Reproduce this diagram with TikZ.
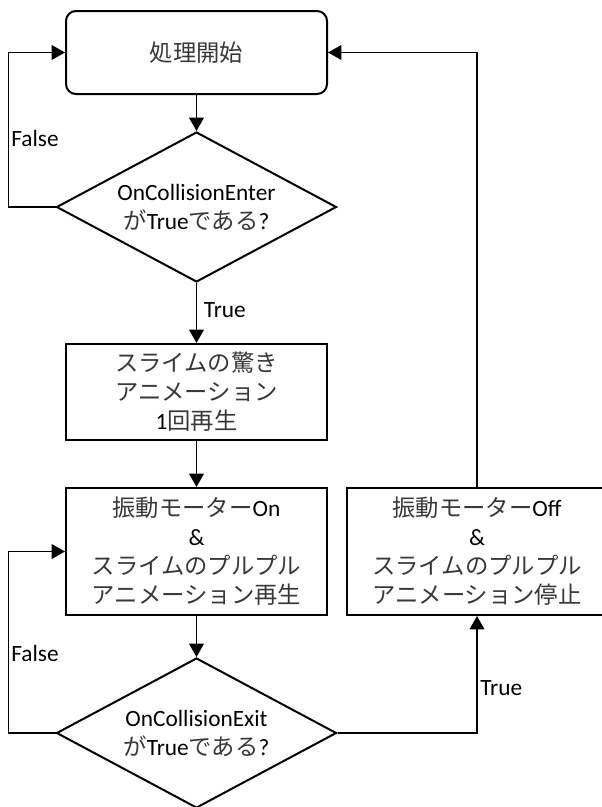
\documentclass[tikz,border=0pt]{standalone}
\usepackage{fontspec}
\setmainfont{Carlito}
\newfontfamily\jpfont{Noto Sans CJK JP}
\newcommand{\jp}[1]{{\jpfont\color{black!78}#1}}
\usetikzlibrary{arrows.meta,shapes.geometric}
\tikzset{
	procbox/.style={draw, line width=1.5pt, minimum width=195.75pt, align=center, inner sep=0pt},
	decbox/.style={draw, diamond, aspect=1.867, line width=1.5pt, minimum width=210pt, minimum height=112.5pt, inner sep=0pt, align=center},
	flow/.style={line width=1pt, -{Triangle[length=10pt,width=11pt]}},
	branch/.style={inner sep=0pt, anchor=west},
}

\begin{document}
\begin{tikzpicture}[x=0.75pt, y=-0.75pt, font=\fontsize{17.5}{21.75}\selectfont]
			%%%%% START %%%%%
			\useasboundingbox (0, 0) rectangle (601, 807);
			
			\node[procbox, rounded corners=7.5pt, minimum height=62.25pt] (start) at (196.5, 52.5) {\jp{処理開始}};
			\node[decbox] (enter) at (196.5, 207) {OnCollisionEnter\\\jp{が}True\jp{である}?};
			\node[procbox, minimum height=72pt] (surprise) at (196.5, 392) {\jp{スライムの驚き}\\\jp{アニメーション}\\1\jp{回再生}};
			\node[procbox, minimum height=95.25pt] (vibon) at (196.5, 551.5) {\jp{振動モーター}On\\\&\\\jp{スライムのプルプル}\\\jp{アニメーション再生}};
			\node[procbox, minimum height=95.25pt] (viboff) at (477, 551.5) {\jp{振動モーター}Off\\\&\\\jp{スライムのプルプル}\\\jp{アニメーション停止}};
			\node[decbox] (exit) at (196.5, 733) {OnCollisionExit\\\jp{が}True\jp{である}?};
			
			\coordinate (lside) at (8.5, 0);
			
			\draw[flow] (start.south) -- (enter.north);
			\draw[flow] (enter.south) -- node[branch, pos=0.45, xshift=5pt] (true1) {True} (surprise.north);
			\draw[flow] (surprise.south) -- (vibon.north);
			\draw[flow] (vibon.south) -- (exit.north);
			
			\draw[flow] (enter.west) -- (enter.west -| lside) |- (start.west);
			\node[branch] (false1) at (11, 138) {False};
			
			\draw[flow] (exit.west) -- (exit.west -| lside) |- (vibon.west);
			\node[branch] (false2) at (11, 653) {False};
			
			\draw[flow] (exit.east) -| (viboff.south);
			\node[branch] (true2) at (480, 688) {True};
			
			\draw[flow] (viboff.north) |- (start.east);
			%%%%% END %%%%%
\end{tikzpicture}
\end{document}
